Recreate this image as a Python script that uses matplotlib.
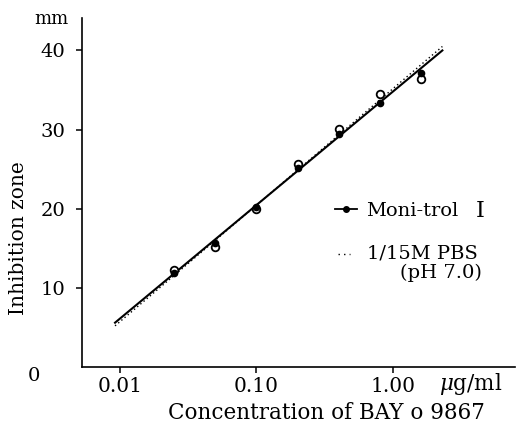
import matplotlib
matplotlib.use("Agg")
import matplotlib.pyplot as plt
from matplotlib.lines import Line2D

plt.rcParams['font.family'] = ['DejaVu Serif']
plt.rcParams['mathtext.fontset'] = 'dejavuserif'

# Data
conc = [0.025, 0.05, 0.1, 0.2, 0.4, 0.8, 1.6]
monitrol = [11.9, 15.7, 20.2, 25.1, 29.5, 33.3, 37.2]
pbs = [12.2, 15.2, 20.0, 25.6, 30.1, 34.5, 36.4]
line_x = [0.0092, 2.3]
monitrol_line = [5.6, 40.0]
pbs_line = [5.2, 40.5]
xticks = [0.01, 0.1, 1.0]
xtick_labels = ["0.01", "0.10", "1.00"]
yticks = [10, 20, 30, 40]
ytick_labels = ["10", "20", "30", "40"]

W, H = 517, 437
fig = plt.figure(figsize=(W / 100, H / 100), dpi=100)
L, R, B, T = 82, 515, 367, 18
ax = fig.add_axes([L / W, 1 - B / H, (R - L) / W, (B - T) / H])

ax.set_xscale('log')
ax.set_xlim(0.00527, 7.83)
ax.set_ylim(0, 44.1)

ax.plot(line_x, pbs_line, color='black', lw=1.0, linestyle=(0, (1, 2)))
ax.plot(line_x, monitrol_line, color='black', lw=1.5)
ax.plot(conc, pbs, linestyle='none', marker='o', markersize=5.5,
        markerfacecolor='white', markeredgecolor='black', markeredgewidth=1.3)
ax.plot(conc, monitrol, linestyle='none', marker='o', markersize=4.5,
        color='black')

for s in ['top', 'right']:
    ax.spines[s].set_visible(False)
for s in ['left', 'bottom']:
    ax.spines[s].set_linewidth(1.2)

ax.set_xticks(xticks)
ax.set_xticklabels(xtick_labels)
ax.minorticks_off()
ax.set_yticks(yticks)
ax.set_yticklabels(ytick_labels)
ax.tick_params(axis='both', direction='out', length=4, width=1.1,
               labelsize=14)
ax.tick_params(axis='x', labelsize=14.5)
ax.tick_params(axis='y', pad=8)
ax.tick_params(axis='x', pad=3)

def fp(x, y):
    return x / W, 1 - y / H

tf = fig.transFigure
fig.text(*fp(34, 376), "0", fontsize=14, ha='center', va='center', transform=tf)
fig.text(*fp(51, 19), "mm", fontsize=13, ha='center', va='center', transform=tf)
fig.text(*fp(471, 384), r"$\mu$g/ml", fontsize=15.5, ha='center', va='center',
         transform=tf)
fig.text(*fp(326, 413), "Concentration of BAY o 9867", fontsize=15.5,
         ha='center', va='center', transform=tf)
fig.text(*fp(19, 238), "Inhibition zone", fontsize=14.5, rotation=90,
         ha='center', va='center', transform=tf)

# Legend
fig.add_artist(Line2D([335 / W, 357 / W], [1 - 209 / H, 1 - 209 / H],
                      color='black', lw=1.3))
fig.add_artist(Line2D([346 / W], [1 - 209 / H], color='black', marker='o',
                      markersize=4, linestyle='none'))
fig.text(*fp(366, 211), "Moni-trol", fontsize=14, ha='left', va='center',
         transform=tf)
fig.text(*fp(480, 211), "I", fontsize=16, ha='center', va='center',
         transform=tf)
fig.add_artist(Line2D([338 / W, 350 / W], [1 - 254 / H, 1 - 254 / H],
                      color='black', lw=1.0, linestyle=(0, (1, 3))))
fig.text(*fp(367, 253), "1/15M PBS", fontsize=14, ha='left', va='center',
         transform=tf)
fig.text(*fp(482, 273), "(pH 7.0)", fontsize=14, ha='right', va='center',
         transform=tf)

fig.savefig("out.png", dpi=100)
